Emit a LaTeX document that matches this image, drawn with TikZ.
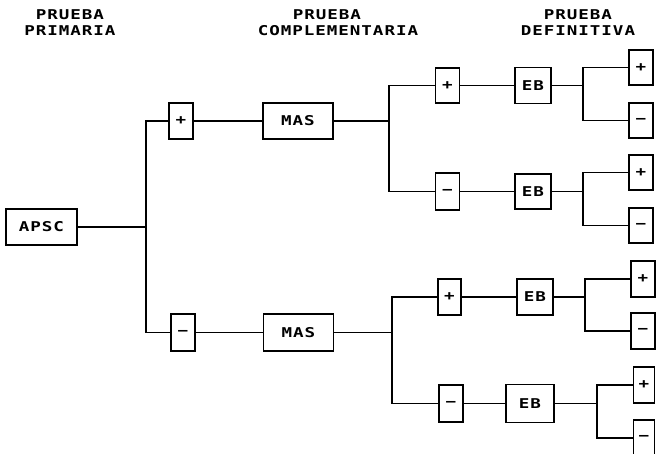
\documentclass[tikz,border=0pt]{standalone}
\usepackage{fontspec}
\newfontfamily\plotfont[FakeStretch=1.3,LetterSpace=7,BoldFont={DejaVu Sans Mono Bold}]{DejaVu Sans Mono}
\begin{document}
\begin{tikzpicture}[x=1pt,y=-1pt,line width=1.8pt,
  txt/.style={inner sep=0pt,font=\plotfont\bfseries\fontsize{13.5}{15}\selectfont},
  bx/.style={txt,draw},
  sg/.style={bx,minimum width=24pt,minimum height=36pt},
  masbox/.style={bx,minimum width=70pt,minimum height=36pt},
  ebbox/.style={bx,minimum width=36pt,minimum height=36pt}]
\useasboundingbox (0,0) rectangle (657,454);
% headers
\node[txt] (h1a) at (70,14.5) {PRUEBA};
\node[txt] (h1b) at (70,30.5) {PRIMARIA};
\node[txt] (h2a) at (327,14.5) {PRUEBA};
\node[txt] (h2b) at (338,30.5) {COMPLEMENTARIA};
\node[txt] (h3a) at (578,14.5) {PRUEBA};
\node[txt] (h3b) at (578,30.5) {DEFINITIVA};
% first level
\node[bx,minimum width=71pt,minimum height=36pt] (apsc) at (41.5,227) {APSC};
\node[sg] (p1) at (181,121) {+};
\node[sg,minimum height=37pt] (m1) at (183,332.5) {−};
\node[masbox] (mas1) at (298,121) {MAS};
\node[masbox,minimum height=37pt] (mas2) at (298.5,332.5) {MAS};
% group A / B
\node[sg,minimum height=35pt] (pA) at (447.5,85.5) {+};
\node[ebbox] (ebA) at (533,85.5) {EB};
\node[sg,minimum height=35pt] (oA1) at (641,67.5) {+};
\node[sg,minimum height=35pt] (oA2) at (641,120.5) {−};
\node[sg,minimum height=37pt] (mB) at (447.5,191.5) {−};
\node[ebbox,minimum height=35pt] (ebB) at (533,191.5) {EB};
\node[sg,minimum height=35pt] (oB1) at (641,172.5) {+};
\node[sg,minimum height=35pt] (oB2) at (641,225.5) {−};
% group C / D
\node[sg,minimum width=23pt] (pC) at (449.5,297) {+};
\node[ebbox] (ebC) at (535,297) {EB};
\node[sg] (oC1) at (643,279) {+};
\node[sg] (oC2) at (643,331) {−};
\node[sg,minimum height=37pt] (mD) at (451,403.5) {−};
\node[bx,minimum width=48pt,minimum height=38pt] (ebD) at (530,403.5) {EB};
\node[sg,minimum width=21pt] (oD1) at (644,385) {+};
\node[sg,minimum width=21pt] (oD2) at (644,438) {−};
% trunk coordinates
\coordinate (t1) at (146,0);
\coordinate (t2) at (389,0);
\coordinate (t3) at (392,0);
\coordinate (sA) at (583,0);
\coordinate (sB) at (583,0);
\coordinate (sC) at (585,0);
\coordinate (sD) at (597,0);
% connectors
\draw (apsc.east) -- (apsc.east -| t1);
\draw (p1.west) -- (p1.west -| t1) -- (m1.west -| t1) -- (m1.west);
\draw (p1) -- (mas1);
\draw (m1) -- (mas2);
\draw (mas1.east) -- (mas1.east -| t2);
\draw (pA.west) -- (pA.west -| t2) -- (mB.west -| t2) -- (mB.west);
\draw (mas2.east) -- (mas2.east -| t3);
\draw (pC.west) -- (pC.west -| t3) -- (mD.west -| t3) -- (mD.west);
\draw (pA) -- (ebA);
\draw (mB) -- (ebB);
\draw (pC) -- (ebC);
\draw (mD) -- (ebD);
\draw (ebA.east) -- (ebA.east -| sA);
\draw (oA1.west) -- (oA1.west -| sA) -- (oA2.west -| sA) -- (oA2.west);
\draw (ebB.east) -- (ebB.east -| sB);
\draw (oB1.west) -- (oB1.west -| sB) -- (oB2.west -| sB) -- (oB2.west);
\draw (ebC.east) -- (ebC.east -| sC);
\draw (oC1.west) -- (oC1.west -| sC) -- (oC2.west -| sC) -- (oC2.west);
\draw (ebD.east) -- (ebD.east -| sD);
\draw (oD1.west) -- (oD1.west -| sD) -- (oD2.west -| sD) -- (oD2.west);
\end{tikzpicture}
\end{document}
